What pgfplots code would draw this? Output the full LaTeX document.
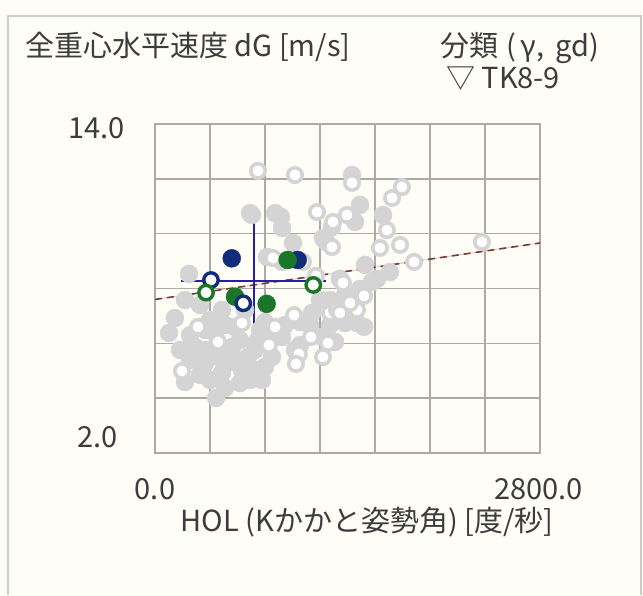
\documentclass[border=0pt]{standalone}
\usepackage{pgfplots}
\pgfplotsset{compat=1.18}
\usepackage{fontspec}
\setmainfont{Noto Sans CJK JP}
\newfontfamily\jp{Noto Sans CJK JP}

\definecolor{bg}{RGB}{254,254,247}
\definecolor{frame}{RGB}{205,205,200}
\definecolor{gridc}{RGB}{170,170,166}
\definecolor{txt}{RGB}{60,60,60}
\definecolor{ptgray}{RGB}{212,212,212}
\definecolor{navy}{RGB}{16,44,122}
\definecolor{dgreen}{RGB}{26,118,40}
\definecolor{cross}{RGB}{40,30,165}
\definecolor{regdark}{RGB}{115,60,60}
\definecolor{regpink}{RGB}{240,190,190}

% filled gray samples
\pgfplotstableread{
x y
1433 12.14
691 10.75
873 10.75
924 10.21
1004 9.66
815 9.15
1222 9.84
1287 10.24
1491 11.05
1455 10.43
1658 10.68
1615 8.35
1491 7.98
1345 8.35
1469 6.74
1520 6.60
102 6.38
444 4.01
247 8.53
291 5.87
364 5.28
487 4.92
633 5.03
676 5.50
560 5.87
436 6.38
582 6.60
655 7.22
487 7.22
924 6.23
1018 5.76
1215 6.23
1309 6.05
1382 6.74
1142 7.11
851 5.50
800 5.14
727 5.03
705 10.68
916 10.61
924 8.97
1244 9.70
364 6.49
255 5.39
400 4.66
545 5.32
749 6.12
800 6.78
1055 6.78
1273 6.67
618 4.55
778 4.66
182 5.76
1200 7.58
145 6.92
218 7.58
327 7.40
400 6.85
509 6.67
618 6.12
727 5.76
255 6.30
364 5.76
473 5.47
582 5.39
691 4.66
509 4.37
327 4.85
218 4.59
764 6.49
836 6.30
945 6.67
1055 5.94
1127 6.67
1273 7.58
1382 7.76
1455 7.58
1578 8.24
1709 8.60
1527 8.86
}\filledgray

% open gray samples
\pgfplotstableread{
x y
749 12.29
1018 12.14
1433 11.85
1796 11.70
1724 11.30
1178 10.79
1396 10.68
1295 10.43
1687 10.13
1782 9.59
1636 9.48
1287 9.51
858 9.11
1076 8.97
2378 9.70
1884 8.97
1171 8.46
1367 8.20
1520 7.73
1469 7.22
1273 7.11
1418 7.47
1011 7.03
873 6.60
1135 6.23
829 5.94
1047 5.61
1025 5.25
1222 5.50
196 4.99
313 6.60
633 6.74
1324 7.22
458 6.05
1258 6.01
1345 7.11
}\opengray

\begin{document}
\begin{tikzpicture}[x=1pt,y=1pt]
\fill[bg] (0,0) rectangle (643,595);
\draw[frame,line width=1.2pt] (8,0) -- (8,579) -- (641,579) -- (641,0);

\begin{axis}[
  at={(155pt,142pt)}, anchor=south west,
  width=385pt, height=329pt, scale only axis,
  xmin=0, xmax=2800, ymin=2, ymax=14,
  xtick={0,400,...,2800}, ytick={2,4,...,14},
  xticklabels={}, yticklabels={},
  major tick length=0pt,
  grid=major,
  grid style={gridc, line width=1.4pt},
  axis line style={gridc, line width=1.4pt},
  axis background/.style={fill=bg},
  clip=true,
]
\addplot[only marks, mark=*, mark size=9pt,
  mark options={fill=ptgray, draw=ptgray}] table {\filledgray};
\addplot[only marks, mark=*, mark size=7.2pt,
  mark options={fill=white, draw=ptgray, line width=3.6pt}] table {\opengray};

% regression line
\addplot[regpink, line width=0.9pt] coordinates {(0,7.60) (2800,9.66)};
\addplot[regdark, line width=1.6pt, dash pattern=on 7pt off 5pt] coordinates {(0,7.60) (2800,9.66)};

% TK8-9 group
\addplot[only marks, mark=*, mark size=9pt, mark options={fill=navy, draw=navy}]
  coordinates {(558,9.10) (1038,9.04)};
\addplot[only marks, mark=*, mark size=9pt, mark options={fill=dgreen, draw=dgreen}]
  coordinates {(965,9.04) (582,7.70) (812,7.44)};
\addplot[only marks, mark=*, mark size=7.2pt, mark options={fill=white, draw=navy, line width=3.4pt}]
  coordinates {(407,8.31) (642,7.46)};
\addplot[only marks, mark=*, mark size=7.2pt, mark options={fill=white, draw=dgreen, line width=3.4pt}]
  coordinates {(371,7.85) (1151,8.13)};

% mean and spread
\addplot[cross, line width=2.2pt] coordinates {(720,10.94) (720,5.65)};
\addplot[cross, line width=2.2pt] coordinates {(189,8.27) (1244,8.27)};
\end{axis}

\begin{scope}[every node/.style={text=txt, font=\jp\fontsize{29}{32}\selectfont, inner sep=0pt}]
\node[anchor=base west] at (25,538) {全重心水平速度 dG [m/s]};
\node[anchor=base west] at (440,538) {分類\hspace{8pt}(\,γ,\, gd)};
\node[anchor=base west] at (446,506) {▽ TK8-9};
\node[anchor=east] at (125,467) {14.0};
\node[anchor=east] at (118,158) {2.0};
\node[anchor=center] at (155,106) {0.0};
\node[anchor=east] at (583,106) {2800.0};
\node[anchor=center] at (367,73) {HOL (Kかかと姿勢角) [度/秒]};
\end{scope}
\end{tikzpicture}
\end{document}
